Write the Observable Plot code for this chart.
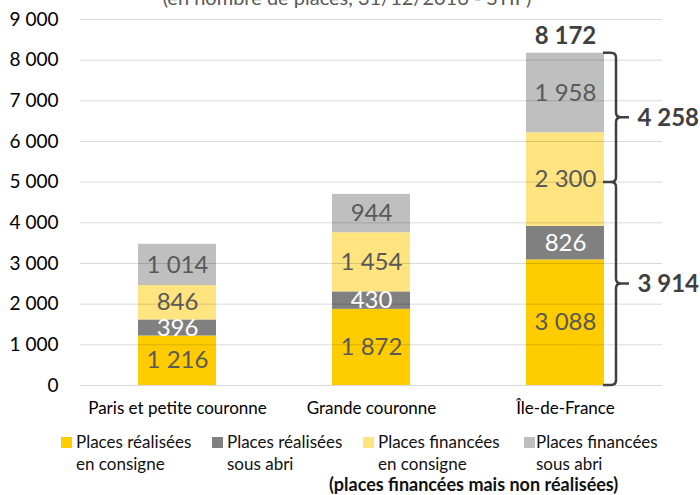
<!DOCTYPE html>
<html>
<head>
<meta charset="utf-8">
<script src="https://cdn.jsdelivr.net/npm/d3@7"></script>
<script src="https://cdn.jsdelivr.net/npm/@observablehq/plot@0.6"></script>
<style>
  html, body { margin: 0; padding: 0; background: #fff; }
  #wrap { position: relative; width: 700px; height: 495px; overflow: hidden; font-family: Lato, "Liberation Sans", sans-serif; }
  #title { position: absolute; top: -13px; left: 0; width: 694px; text-align: center; font-size: 20px; color: #595959; line-height: 20px; white-space: nowrap; }
  #chart { position: absolute; top: 0; left: 0; }
  .lg-sq { position: absolute; width: 11px; height: 11px; }
  .lg-tx { position: absolute; font-size: 17px; line-height: 22px; color: #111; white-space: nowrap; }
  #note { position: absolute; left: 329px; top: 475px; font-size: 18px; font-weight: bold; color: #111; line-height: 19px; white-space: nowrap; }
</style>
</head>
<body>
<div id="wrap">
  <div id="title"></div>
  <div id="chart"></div>
  <div id="legend"></div>
  <div id="note"></div>
</div>
<script>
const titleText = "(en nombre de places, 31/12/2016 - STIF)";
const noteText = "(places financées mais non réalisées)";
const categories = ["Paris et petite couronne", "Grande couronne", "Île-de-France"];
const seriesNames = ["Places réalisées en consigne", "Places réalisées sous abri", "Places financées en consigne", "Places financées sous abri"];
const legendLines = [["Places réalisées", "en consigne"], ["Places réalisées", "sous abri"], ["Places financées", "en consigne"], ["Places financées", "sous abri"]];
const realiseesConsigne = [1216, 1872, 3088];
const realiseesAbri = [396, 430, 826];
const financeesConsigne = [846, 1454, 2300];
const financeesAbri = [1014, 944, 1958];
const seriesColors = ["#FFCC00", "#808080", "#FFE480", "#BFBFBF"];
const yTicks = [0, 1000, 2000, 3000, 4000, 5000, 6000, 7000, 8000, 9000];
const braceCategory = "Île-de-France";
const braceJoin = 4990;

const fmt = v => d3.format(",")(v).replace(/,/g, " ");
const seriesValues = [realiseesConsigne, realiseesAbri, financeesConsigne, financeesAbri];
const rows = [];
categories.forEach((c, i) => seriesNames.forEach((s, j) => rows.push({cat: c, series: s, idx: j, value: seriesValues[j][i]})));

const bi = categories.indexOf(braceCategory);
const totalIdf = seriesValues.reduce((a, arr) => a + arr[bi], 0);
const realisedIdf = realiseesConsigne[bi] + realiseesAbri[bi];
const financedIdf = financeesConsigne[bi] + financeesAbri[bi];
const braceSpans = [
  {from: 0, to: braceJoin, label: fmt(realisedIdf)},
  {from: braceJoin, to: totalIdf, label: fmt(financedIdf)}
];
braceSpans.forEach(b => { b.cat = braceCategory; b.mid = (b.from + b.to) / 2; });

const braceMark = (index, scales) => {
  const x = scales.x, y = scales.y;
  const bw = x.bandwidth ? x.bandwidth() : 77;
  const x0 = x(braceCategory) + bw + 12;
  const r = 5, hook = 13, tip = 13;
  const p = d3.path();
  for (const b of braceSpans) {
    const yA = y(b.to), yB = y(b.from), yM = y(b.mid);
    p.moveTo(x0 - hook, yA); p.lineTo(x0 - r, yA); p.quadraticCurveTo(x0, yA, x0, yA + r);
    p.lineTo(x0, yM - r); p.quadraticCurveTo(x0, yM, x0 + r, yM); p.lineTo(x0 + tip, yM);
    p.moveTo(x0 + r, yM); p.quadraticCurveTo(x0, yM, x0, yM + r);
    p.lineTo(x0, yB - r); p.quadraticCurveTo(x0, yB, x0 - r, yB); p.lineTo(x0 - hook, yB);
  }
  const g = d3.create("svg:g");
  g.append("path").attr("d", p.toString()).attr("fill", "none").attr("stroke", "#404040").attr("stroke-width", 2.5).attr("stroke-linejoin", "round");
  return g.node();
};

const chart = Plot.plot({
  width: 700,
  height: 425,
  marginTop: 19,
  marginBottom: 40,
  marginLeft: 80,
  marginRight: 38,
  style: {fontFamily: "Lato, 'Liberation Sans', sans-serif", background: "transparent"},
  x: {domain: categories, paddingInner: 0.6, paddingOuter: 0.3, label: null, tickSize: 0, tickPadding: 16},
  y: {domain: [0, 9000], ticks: yTicks, label: null, tickSize: 0, tickPadding: 22, tickFormat: fmt},
  color: {domain: seriesNames, range: seriesColors},
  marks: [
    Plot.axisY({ticks: yTicks, tickSize: 0, tickPadding: 22, tickFormat: fmt, fontSize: 19, fill: "#000", label: null}),
    Plot.axisX({tickSize: 0, tickPadding: 16, fontSize: 17, fill: "#000", label: null}),
    Plot.barY(rows, {x: "cat", y: "value", fill: "series", order: null}),
    Plot.gridY({ticks: yTicks, stroke: "#000", strokeOpacity: 0.15, strokeWidth: 1}),
    Plot.text(rows, Plot.stackY({x: "cat", y: "value", text: d => d.idx === 1 ? "" : fmt(d.value), fill: "#595959", fontSize: 24})),
    Plot.text(rows, Plot.stackY({x: "cat", y: "value", text: d => d.idx === 1 ? fmt(d.value) : "", fill: "#fff", fontSize: 24})),
    Plot.text([{cat: braceCategory, total: totalIdf}], {x: "cat", y: "total", text: d => fmt(d.total), dy: -17, fontSize: 24, fontWeight: "bold", fill: "#404040"}),
    braceMark,
    Plot.text(braceSpans, {x: "cat", y: "mid", text: "label", dx: 72, textAnchor: "start", fontSize: 24, fontWeight: "bold", fill: "#404040"})
  ]
});
document.getElementById("chart").appendChild(chart);
document.getElementById("title").textContent = titleText;
document.getElementById("note").textContent = noteText;

const sqX = [61, 212, 363, 524];
const txX = [76, 227, 378, 536];
const lg = document.getElementById("legend");
seriesNames.forEach((s, j) => {
  const sq = document.createElement("div");
  sq.className = "lg-sq";
  sq.style.left = sqX[j] + "px"; sq.style.top = "437px"; sq.style.background = seriesColors[j];
  lg.appendChild(sq);
  const tx = document.createElement("div");
  tx.className = "lg-tx";
  tx.style.left = txX[j] + "px"; tx.style.top = "431px";
  tx.innerHTML = legendLines[j].join("<br>");
  lg.appendChild(tx);
});
</script>
</body>
</html>
